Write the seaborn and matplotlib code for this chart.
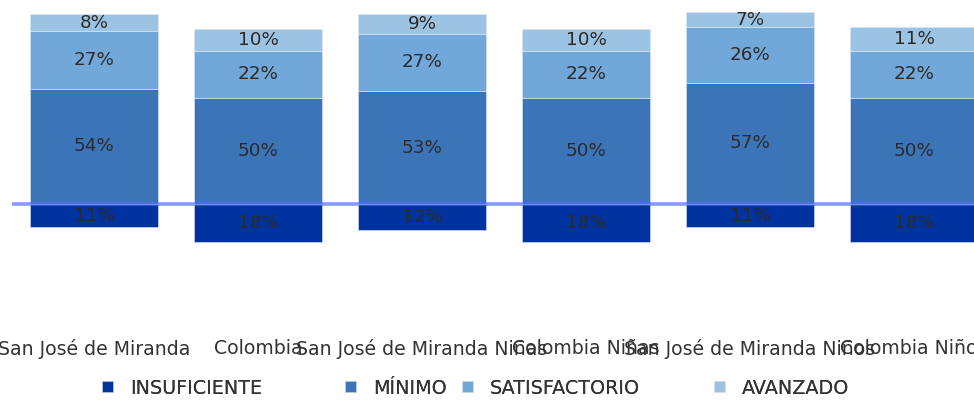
import matplotlib
matplotlib.use("Agg")
import matplotlib.pyplot as plt
import seaborn as sns
import numpy as np
import pandas as pd

categories = ["San José de Miranda", "Colombia", "San José de Miranda Niñas",
              "Colombia Niñas", "San José de Miranda Niños", "Colombia Niños"]
insuficiente = [11, 18, 12, 18, 11, 18]
minimo = [54, 50, 53, 50, 57, 50]
satisfactorio = [27, 22, 27, 22, 26, 22]
avanzado = [8, 10, 9, 10, 7, 11]
series_names = ["INSUFICIENTE", "MÍNIMO", "SATISFACTORIO", "AVANZADO"]
colors = ["#0033A0", "#3B75B7", "#72A7D9", "#9DC3E3"]

sns.set_theme(style="white")
plt.rcParams['font.family'] = ['DejaVu Sans']

W, H = 974, 400
fig = plt.figure(figsize=(W / 100, H / 100), dpi=100)
left, right, top, bottom = 12, 996, 4, 330
ax = fig.add_axes([left / W, 1 - bottom / H, (right - left) / W, (bottom - top) / H])

df = pd.DataFrame({"cat": categories, "ins": insuficiente, "min": minimo,
                   "sat": satisfactorio, "ava": avanzado})

text_color = "#2b2b2b"
fs_lab = 13.2

containers = []
sns.barplot(data=df, x="cat", y=-df["ins"], color=colors[0], width=0.78,
            ax=ax, label=series_names[0], saturation=1,
            edgecolor="#dfe6f3", linewidth=0.4)
containers.append((ax.containers[-1], insuficiente))
sns.barplot(data=df, x="cat", y="min", color=colors[1], width=0.78, ax=ax,
            label=series_names[1], saturation=1, edgecolor="#dfe6f3", linewidth=0.4)
containers.append((ax.containers[-1], minimo))
b2 = np.array(minimo)
sns.barplot(data=df, x="cat", y="sat", bottom=b2, color=colors[2], width=0.78, ax=ax,
            label=series_names[2], saturation=1, edgecolor="#dfe6f3", linewidth=0.4)
containers.append((ax.containers[-1], satisfactorio))
b3 = b2 + np.array(satisfactorio)
sns.barplot(data=df, x="cat", y="ava", bottom=b3, color=colors[3], width=0.78, ax=ax,
            label=series_names[3], saturation=1, edgecolor="#dfe6f3", linewidth=0.4)
containers.append((ax.containers[-1], avanzado))

for cont, vals in containers:
    ax.bar_label(cont, labels=[f"{v}%" for v in vals], label_type="center",
                 color=text_color, fontsize=fs_lab)

ax.axhline(0, color="#5470ff", alpha=0.7, linewidth=2.6, zorder=5)

px = 2.13
ax.set_ylim(-(bottom - 204) / px, (204 - top) / px)
ax.set_xlim(-0.5, 5.5)
ax.set_xlabel("")
ax.set_ylabel("")
ax.set_yticks([])
ax.tick_params(axis="x", length=0, pad=6.5, labelsize=13.6, labelcolor="#333333")
for s in ax.spines.values():
    s.set_visible(False)
if ax.get_legend() is not None:
    ax.get_legend().remove()

handles, labels = ax.get_legend_handles_labels()
marker_x = [102, 345, 462, 714]
for h, l, mx in zip(handles, labels, marker_x):
    leg = fig.legend([h], [l], loc="center left", bbox_to_anchor=(mx / W, 1 - 388 / H),
                     frameon=False, handlelength=0.55, handleheight=0.55, handletextpad=0.9,
                     borderpad=0, borderaxespad=0, fontsize=13.8, labelcolor="#333333")
    fig.add_artist(leg)

fig.savefig("out.png", dpi=100)
